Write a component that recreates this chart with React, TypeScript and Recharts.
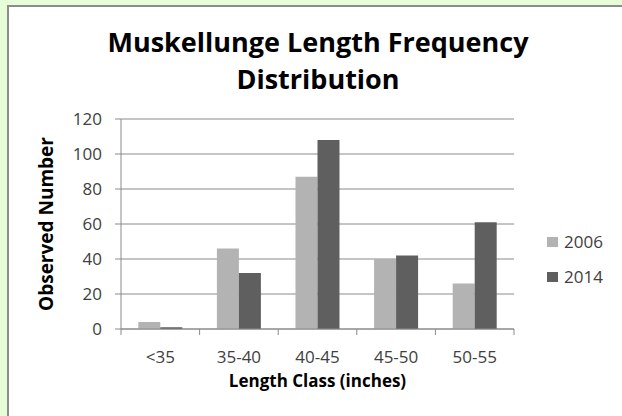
import React from "react"
import {
  Bar,
  BarChart,
  CartesianGrid,
  Legend,
  XAxis,
  YAxis,
} from "recharts"

const categories = ["<35", "35-40", "40-45", "45-50", "50-55"]
const counts2006 = [4, 46, 87, 40, 26]
const counts2014 = [1, 32, 108, 42, 61]
const yTicks = [0, 20, 40, 60, 80, 100, 120]

const data = categories.map((c, i) => ({
  cls: c,
  y2006: counts2006[i],
  y2014: counts2014[i],
}))

const W = 622
const H = 416
const PLOT_LEFT = 121
const PLOT_RIGHT = 514
const LEGEND_W = 70
const BAND = (PLOT_RIGHT - PLOT_LEFT) / categories.length
const FONT = "'Open Sans', Lato, sans-serif"
const AXIS = "#8a8a8a"
const TEXT = "#404040"

function XTick(props: any) {
  const { x, y, payload, index } = props
  const last = index === categories.length - 1
  return (
    <g>
      <line x1={x - BAND / 2} x2={x - BAND / 2} y1={y} y2={y + 6} stroke={AXIS} />
      {last && (
        <line x1={x + BAND / 2} x2={x + BAND / 2} y1={y} y2={y + 6} stroke={AXIS} />
      )}
      <text x={x} y={y + 34} textAnchor="middle" fontSize={17} fill={TEXT} fontFamily={FONT}>
        {payload.value}
      </text>
    </g>
  )
}

function LegendBox() {
  const items = [
    { name: "2006", color: "#b3b3b3" },
    { name: "2014", color: "#5f5f5f" },
  ]
  return (
    <div style={{ fontFamily: FONT, fontSize: 17, color: TEXT }}>
      {items.map((it) => (
        <div key={it.name} style={{ display: "flex", alignItems: "center", height: 35 }}>
          <span style={{ width: 11, height: 10, background: it.color, marginRight: 6 }} />
          {it.name}
        </div>
      ))}
    </div>
  )
}

export default function App() {
  return (
    <div style={{ position: "absolute", left: 0, top: 0, width: W, height: H, background: "#e6fdd7", overflow: "hidden" }}>
      <div
        style={{
          position: "absolute",
          left: 7,
          top: 5,
          right: 0,
          bottom: 0,
          background: "#fff",
          borderTop: "2px solid #8c8c8c",
          borderLeft: "2px solid #8c8c8c",
        }}
      />
      <div
        style={{
          position: "absolute",
          left: 0,
          top: 23,
          width: 636,
          textAlign: "center",
          fontFamily: FONT,
          fontWeight: 700,
          fontSize: 27,
          lineHeight: "37px",
          color: "#000",
        }}
      >
        Muskellunge Length Frequency
        <br />
        Distribution
      </div>
      <div style={{ position: "absolute", left: 0, top: 0 }}>
        <BarChart
          width={W}
          height={H}
          data={data}
          margin={{ top: 119, right: W - PLOT_RIGHT - LEGEND_W, bottom: 57, left: 61 }}
          barCategoryGap="22%"
          barGap={0}
        >
          <CartesianGrid horizontal vertical={false} stroke={AXIS} />
          <XAxis
            dataKey="cls"
            height={30}
            axisLine={{ stroke: AXIS }}
            tickLine={false}
            tickSize={0}
            tickMargin={0}
            tick={<XTick />}
            interval={0}
            label={{
              value: "Length Class (inches)",
              position: "insideBottom",
              offset: -28,
              fontFamily: FONT,
              fontWeight: 700,
              fontSize: 17,
              fill: "#000",
            }}
          />
          <YAxis
            width={PLOT_LEFT - 61}
            domain={[0, 120]}
            ticks={yTicks}
            axisLine={{ stroke: AXIS }}
            tickLine={{ stroke: AXIS }}
            tickSize={6}
            tickMargin={13}
            tick={{ fontSize: 17, fill: TEXT, fontFamily: FONT }}
            label={{
              value: "Observed Number",
              angle: -90,
              position: "center",
              dx: -45,
              fontFamily: FONT,
              fontWeight: 700,
              fontSize: 19,
              fill: "#000",
            }}
          />
          <Legend
            layout="vertical"
            align="right"
            verticalAlign="top"
            content={<LegendBox />}
            wrapperStyle={{ left: 547, top: 224, width: LEGEND_W }}
          />
          <Bar dataKey="y2006" name="2006" fill="#b3b3b3" isAnimationActive={false} />
          <Bar dataKey="y2014" name="2014" fill="#5f5f5f" isAnimationActive={false} />
        </BarChart>
      </div>
    </div>
  )
}
